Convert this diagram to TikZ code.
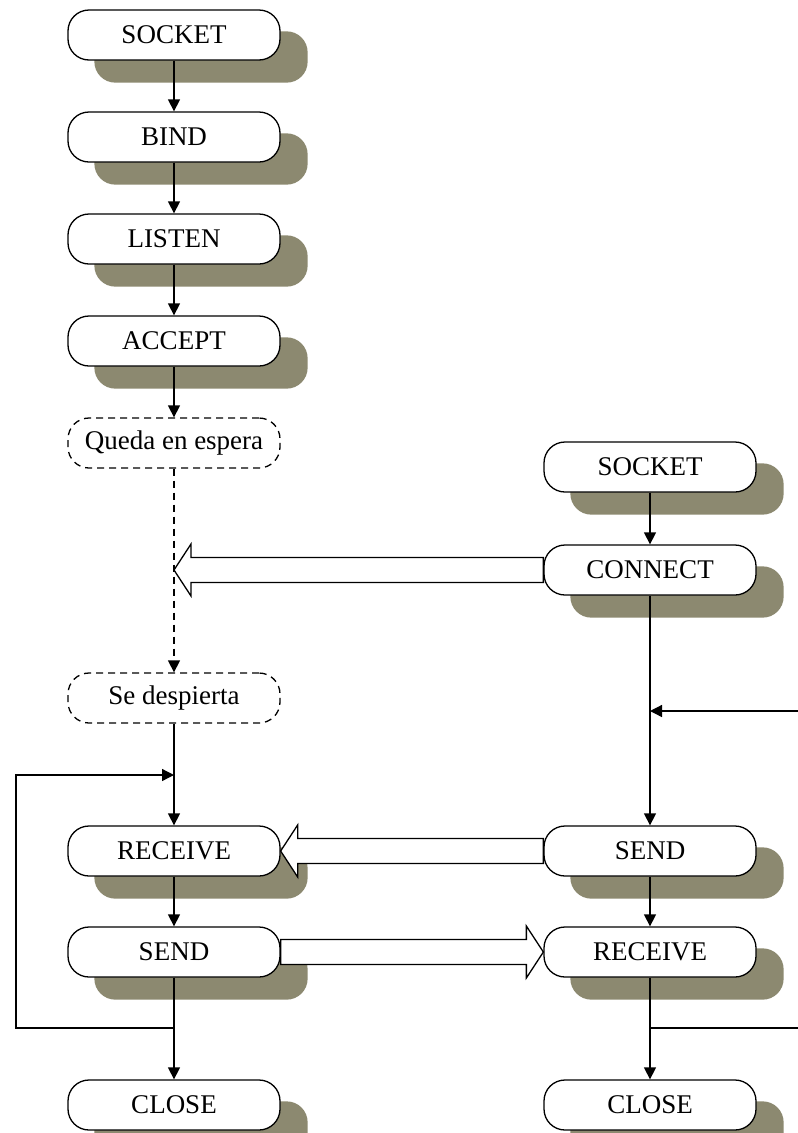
\documentclass[tikz,border=0pt]{standalone}
\usepackage{fontspec}
\setmainfont{Liberation Serif}
\usetikzlibrary{arrows.meta,calc,backgrounds}
\definecolor{shadowc}{RGB}{140,137,112}
\newcommand\fatarrow[3]{%
 \draw[fat] let \p1=(#1), \p2=(#2) in
 (\x1,{\y1+12.5pt}) -- ({\x2#317pt},{\y1+12.5pt}) -- ({\x2#317pt},{\y1+26pt}) -- (\x2,\y1)
 -- ({\x2#317pt},{\y1-26pt}) -- ({\x2#317pt},{\y1-12.5pt}) -- (\x1,{\y1-12.5pt}) -- cycle;}
\begin{document}
\begin{tikzpicture}[x=1pt,y=-1pt,
  box/.style={draw, line width=1.3pt, fill=white, rounded corners=21pt,
    minimum width=212pt, minimum height=50pt, inner sep=0pt,
    font=\fontsize{27}{30}\selectfont},
  wait/.style={box, dash pattern=on 7pt off 5pt},
  con/.style={line width=1.3pt, -{Triangle[length=12pt,width=12pt]}},
  plain/.style={line width=1.3pt},
  fat/.style={line width=1.3pt, fill=white, line join=miter}]
\clip (0,0) rectangle (798,1133);
% left column
\node[box] (s1) at (174,35) {SOCKET};
\node[box] (b1) at (174,137) {BIND};
\node[box] (l1) at (174,239) {LISTEN};
\node[box] (a1) at (174,341) {ACCEPT};
\node[wait] (q) at (174,443) {Queda en espera};
\node[wait] (d) at (174,698) {Se despierta};
\node[box] (r1) at (174,851) {RECEIVE};
\node[box] (sd1) at (174,952) {SEND};
\node[box] (cl1) at (174,1105) {CLOSE};
% right column
\node[box] (s2) at (650,467) {SOCKET};
\node[box] (c2) at (650,570) {CONNECT};
\node[box] (sd2) at (650,851) {SEND};
\node[box] (rc2) at (650,952) {RECEIVE};
\node[box] (cl2) at (650,1105) {CLOSE};
% shadows
\begin{scope}[on background layer]
\fill[white] (0,0) rectangle (798,1133);
\foreach \n in {s1,b1,l1,a1,r1,sd1,cl1,s2,c2,sd2,rc2,cl2}
  \fill[shadowc, rounded corners=21pt] ($(\n.south west)+(27,22)$) rectangle ($(\n.north east)+(27,22)$);
\end{scope}
% left connectors
\draw[con] (s1) -- (b1);
\draw[con] (b1) -- (l1);
\draw[con] (l1) -- (a1);
\draw[con] (a1) -- (q);
\draw[con, dash pattern=on 7pt off 5pt] (q) -- (d);
\draw[con] (d) -- (r1);
\draw[con] (r1) -- (sd1);
\draw[con] (sd1) -- (cl1);
\coordinate (lb) at (174,1028);
\coordinate (lt) at (174,775);
\coordinate (lc) at (16,900);
\draw[con] (lb) -| (lc) |- (lt);
% right connectors
\draw[con] (s2) -- (c2);
\draw[con] (c2) -- (sd2);
\draw[con] (sd2) -- (rc2);
\draw[con] (rc2) -- (cl2);
\coordinate (rin) at (800,711);
\draw[con] (rin) -- (rin -| c2);
\coordinate (rout) at (800,1028);
\draw[plain] (rout -| rc2) -- (rout);
% block arrows
\fatarrow{c2.west}{q |- c2}{+}
\fatarrow{sd2.west}{r1.east}{+}
\fatarrow{sd1.east}{rc2.west}{-}
\end{tikzpicture}
\end{document}
